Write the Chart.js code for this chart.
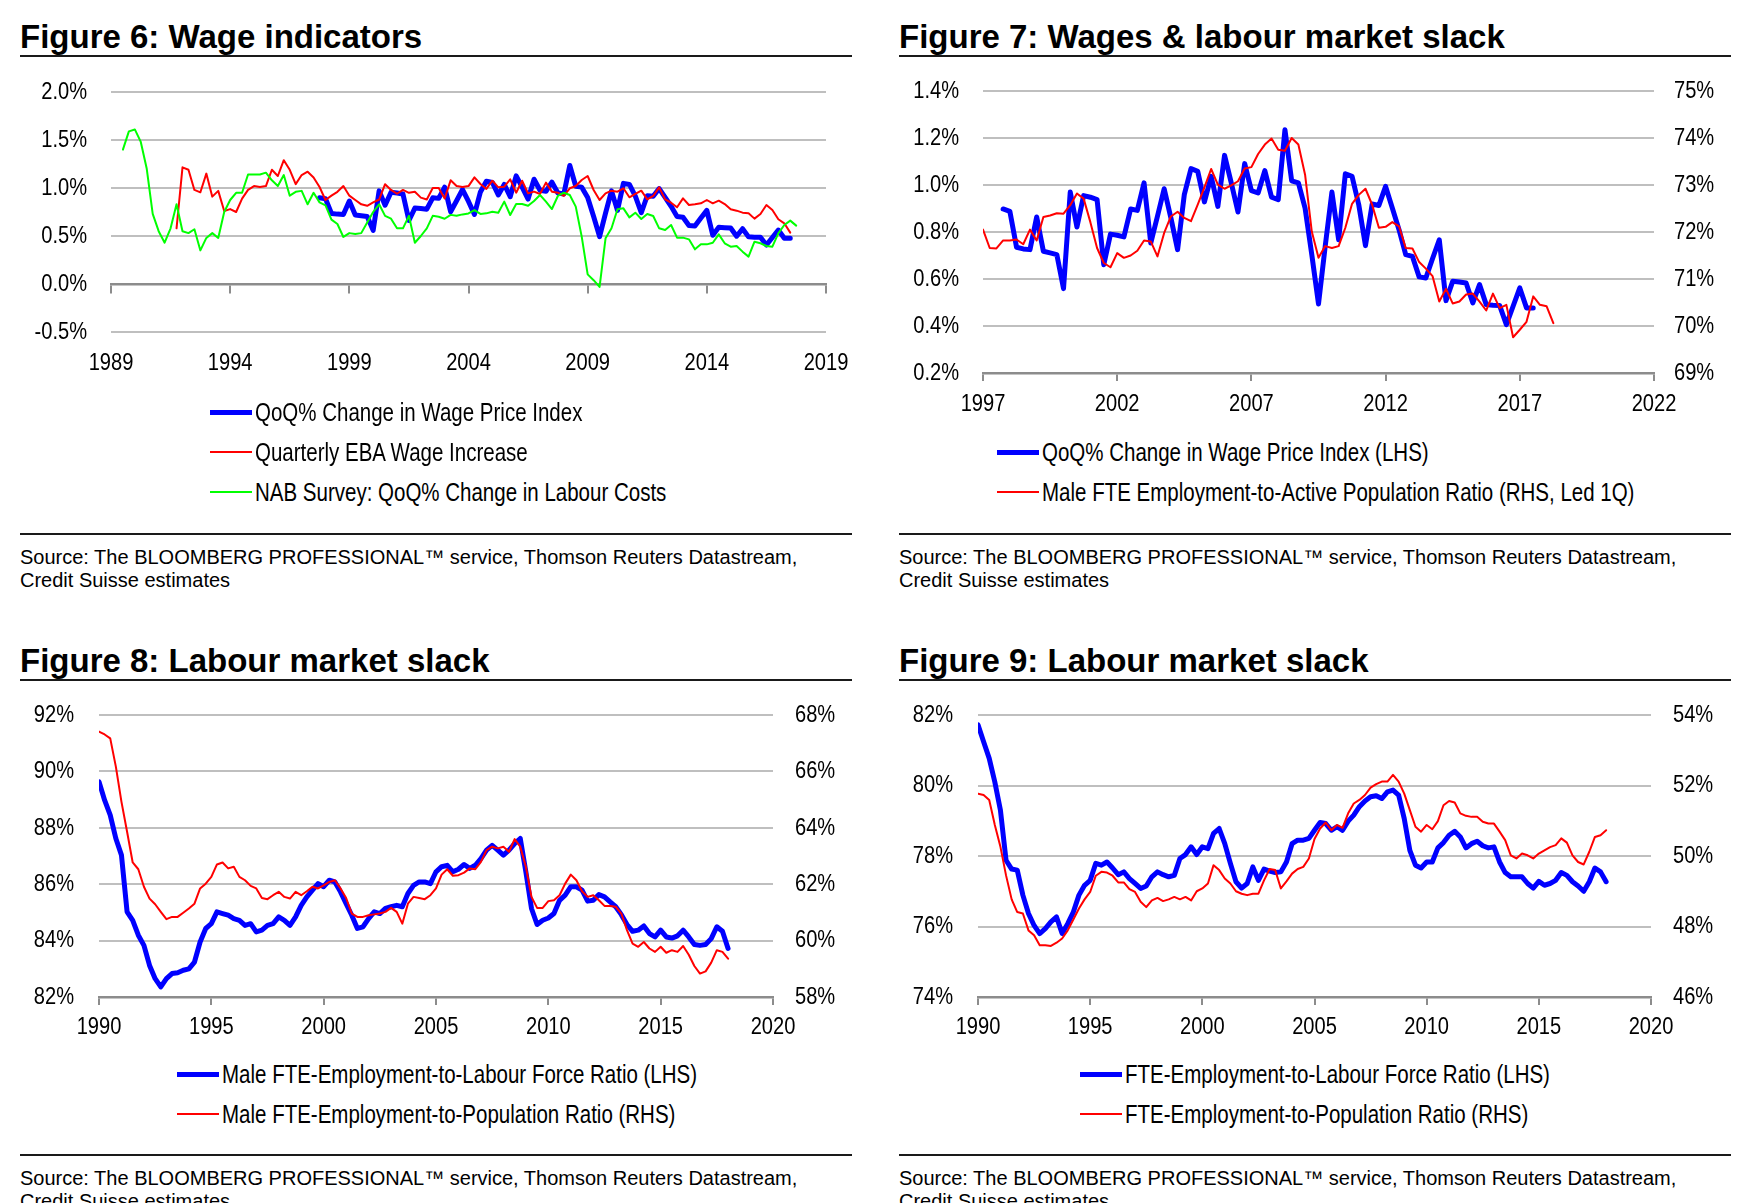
<!DOCTYPE html>
<html>
<head>
<meta charset="utf-8">
<script src="https://cdn.jsdelivr.net/npm/chart.js@4.4.1/dist/chart.umd.min.js"></script>
<style>
  html, body { margin: 0; padding: 0; background: #fff; }
  body { width: 1743px; height: 1203px; position: relative; overflow: hidden;
         font-family: 'Liberation Sans', Arial, sans-serif; color: #000; }
  .title { position: absolute; font-weight: bold; font-size: 33px; line-height: 1; white-space: nowrap; }
  .rule { position: absolute; height: 2px; background: #1a1a1a; }
  .source { position: absolute; font-size: 20px; line-height: 23px; white-space: nowrap; }
  .legend { position: absolute; font-size: 25px; }
  .legend .row { position: absolute; left: 0; height: 0; white-space: nowrap; }
  .legend .swatch { position: absolute; left: 0; width: 42px; }
  /* no narrow face installed: squeeze Liberation Sans like Arial Narrow */
  .legend .txt { position: absolute; left: 45px; top: 0; line-height: 1;
                 transform: translateY(-50%) scaleX(0.82); transform-origin: left center; }
  canvas { position: absolute; }
</style>
</head>
<body>

<div class="title" style="left:20px; top:20px;">Figure 6: Wage indicators</div>
<div class="rule" style="left:20px; top:55px; width:832px;"></div>
<div class="rule" style="left:20px; top:533px; width:832px;"></div>
<div class="source" style="left:20px; top:546px;">Source: The BLOOMBERG PROFESSIONAL™ service, Thomson Reuters Datastream,<br>Credit Suisse estimates</div>
<canvas id="fig6" width="856" height="350" style="left:20px; top:50px;"></canvas>

<div class="title" style="left:899px; top:20px;">Figure 7: Wages &amp; labour market slack</div>
<div class="rule" style="left:899px; top:55px; width:832px;"></div>
<div class="rule" style="left:899px; top:533px; width:832px;"></div>
<div class="source" style="left:899px; top:546px;">Source: The BLOOMBERG PROFESSIONAL™ service, Thomson Reuters Datastream,<br>Credit Suisse estimates</div>
<canvas id="fig7" width="832" height="366" style="left:899px; top:49px;"></canvas>

<div class="title" style="left:20px; top:644px;">Figure 8: Labour market slack</div>
<div class="rule" style="left:20px; top:679px; width:832px;"></div>
<div class="rule" style="left:20px; top:1154px; width:832px;"></div>
<div class="source" style="left:20px; top:1167px;">Source: The BLOOMBERG PROFESSIONAL™ service, Thomson Reuters Datastream,<br>Credit Suisse estimates</div>
<canvas id="fig8" width="832" height="367" style="left:20px; top:673px;"></canvas>

<div class="title" style="left:899px; top:644px;">Figure 9: Labour market slack</div>
<div class="rule" style="left:899px; top:679px; width:832px;"></div>
<div class="rule" style="left:899px; top:1154px; width:832px;"></div>
<div class="source" style="left:899px; top:1167px;">Source: The BLOOMBERG PROFESSIONAL™ service, Thomson Reuters Datastream,<br>Credit Suisse estimates</div>
<canvas id="fig9" width="832" height="367" style="left:899px; top:673px;"></canvas>

<script>
// quarterly series (first value's date given separately)
const wpiStart = 1997.75;
const wpiQoq = [0.898, 0.888, 0.735, 0.728, 0.725, 0.864, 0.718, 0.711, 0.704, 0.559,
  0.970, 0.821, 0.955, 0.948, 0.938, 0.661, 0.791, 0.786, 0.779, 0.898,
  0.892, 1.009, 0.753, 0.867, 0.984, 0.860, 0.725, 0.959, 1.070, 1.058,
  0.928, 1.037, 0.909, 1.126, 1.009, 0.885, 1.091, 0.976, 0.966, 1.061,
  0.948, 0.938, 1.235, 1.018, 1.009, 0.902, 0.704, 0.494, 0.739, 0.970,
  0.767, 1.048, 1.037, 0.916, 0.742, 0.919, 0.913, 0.994, 0.902, 0.810,
  0.704, 0.696, 0.609, 0.604, 0.687, 0.767, 0.508, 0.590, 0.587, 0.583,
  0.498, 0.576, 0.491, 0.488, 0.487, 0.406, 0.484, 0.562, 0.477, 0.477];

const ebaStart = 1991.75;
const ebaWage = [0.58, 1.215, 1.19, 0.98, 0.955, 1.15, 0.91, 0.97, 0.76, 0.78,
  0.75, 0.89, 0.98, 1.02, 1.01, 1.02, 1.19, 1.125, 1.29, 1.19,
  1.04, 1.135, 1.17, 1.11, 1.01, 0.875, 0.92, 0.96, 1.02, 0.92,
  0.875, 0.83, 0.815, 0.85, 0.88, 1.04, 0.98, 0.94, 0.98, 0.95,
  0.96, 0.90, 0.88, 1.0, 1.0, 0.89, 1.08, 1.02, 1.01, 1.02,
  1.111, 1.042, 0.990, 1.076, 1.007, 1.014, 1.090, 0.951, 1.076, 0.944,
  0.962, 0.938, 1.056, 0.962, 0.951, 0.917, 0.997, 1.021, 1.083, 1.125,
  0.979, 0.875, 0.944, 0.972, 0.962, 0.997, 0.903, 0.938, 0.972, 0.882,
  0.917, 1.007, 0.882, 0.847, 0.799, 0.892, 0.823, 0.830, 0.840, 0.875,
  0.840, 0.868, 0.833, 0.778, 0.764, 0.743, 0.736, 0.681, 0.729, 0.823,
  0.771, 0.674, 0.632, 0.535];

const nabStart = 1989.5;
const nabLabour = [1.40, 1.59, 1.61, 1.48, 1.20, 0.73, 0.55, 0.43, 0.58, 0.83,
  0.55, 0.53, 0.57, 0.35, 0.48, 0.53, 0.48, 0.75, 0.875, 0.95,
  0.95, 1.14, 1.14, 1.14, 1.16, 1.08, 1.02, 1.135, 0.92, 0.96,
  0.97, 0.83, 0.95, 0.85, 0.82, 0.67, 0.625, 0.49, 0.53, 0.52,
  0.53, 0.64, 0.75, 0.83, 0.71, 0.68, 0.58, 0.58, 0.71, 0.43,
  0.50, 0.58, 0.71, 0.70, 0.68, 0.72, 0.71, 0.725, 0.735,
  0.77, 0.73, 0.736, 0.753, 0.743, 0.858, 0.719, 0.833, 0.833, 0.816,
  0.865, 0.927, 0.858, 0.781, 0.917, 0.951, 0.927, 0.806, 0.493, 0.10,
  0.04, -0.03, 0.476, 0.58, 0.778, 0.788, 0.694, 0.743, 0.677, 0.729,
  0.708, 0.58, 0.5625, 0.615, 0.483, 0.483, 0.465, 0.361, 0.413, 0.413,
  0.43, 0.517, 0.424, 0.389, 0.396, 0.337, 0.285, 0.441, 0.424, 0.396,
  0.389, 0.528, 0.615, 0.66, 0.608];

const maleActiveStart = 1997.0;
const maleEmpActive = [72.05, 71.66, 71.65, 71.82, 71.82, 71.84, 71.74, 72.05, 71.82, 72.32,
  72.35, 72.40, 72.39, 72.57, 72.82, 72.71, 72.21, 71.66, 71.34, 71.25,
  71.55, 71.45, 71.50, 71.60, 71.82, 71.80, 71.48, 71.98, 72.33, 72.43,
  72.30, 72.23, 72.58, 72.95, 73.34, 73.01, 72.92, 72.99, 73.08, 73.35,
  73.38, 73.66, 73.86, 73.99,
  73.75, 73.73, 74.00, 73.86, 73.22, 72.01, 71.45, 71.70, 71.66, 71.70,
  72.09, 72.60, 72.79, 72.92, 72.58, 72.09, 72.11, 72.21, 72.12, 71.66,
  71.65, 71.36, 71.22, 71.06, 70.52, 70.79, 70.48, 70.52, 70.67, 70.69,
  70.52, 70.33, 70.69, 70.38, 70.45, 69.76, 69.92, 70.09, 70.63, 70.45,
  70.42, 70.06];

const slackStart = 1990.0;
const maleEmpLF = [89.63, 88.98, 88.45, 87.62, 87.03, 85.02, 84.72, 84.19, 83.83, 83.12,
  82.65, 82.36, 82.65, 82.83, 82.86, 82.95, 83.00, 83.24, 83.95, 84.43,
  84.60, 85.02, 84.96, 84.90, 84.78, 84.72, 84.54, 84.60, 84.31, 84.37,
  84.54, 84.60, 84.84, 84.72, 84.54, 84.84, 85.25, 85.55, 85.79, 86.02,
  85.91, 86.14, 86.08, 85.73, 85.31, 84.90, 84.43, 84.49, 84.78, 85.02,
  84.96, 85.14, 85.20, 85.25, 85.20, 85.67, 85.96, 86.08, 86.08,
  86.02, 86.44, 86.62, 86.67, 86.44, 86.53, 86.70, 86.56, 86.67, 86.91,
  87.21, 87.38, 87.21, 87.03, 87.21, 87.44, 87.62, 86.44, 85.14, 84.57,
  84.72, 84.80, 84.96, 85.43, 85.61, 85.91, 85.91, 85.79, 85.40, 85.43,
  85.63, 85.55, 85.37, 85.20, 84.92, 84.57, 84.33, 84.37, 84.52, 84.25,
  84.13, 84.37, 84.13, 84.09, 84.17, 84.37, 84.13, 83.86, 83.83, 83.86,
  84.07, 84.49, 84.33, 83.72];
const maleEmpPop = [67.41, 67.31, 67.17, 66.17, 64.92, 63.86, 62.77, 62.53, 61.91, 61.49,
  61.29, 61.02, 60.76, 60.84, 60.84, 60.99, 61.14, 61.31, 61.85, 62.02,
  62.26, 62.70, 62.77, 62.56, 62.62, 62.26, 62.14, 61.94, 61.85, 61.51,
  61.47, 61.61, 61.73, 61.55, 61.49, 61.73, 61.61, 61.75, 61.91, 61.85,
  61.96, 62.08, 62.14, 61.85, 61.51, 60.96, 60.84, 60.84, 60.90, 60.93,
  60.96, 61.02, 61.16, 61.02, 60.60, 61.31, 61.55, 61.51, 61.47,
  61.61, 61.85, 62.34, 62.53, 62.30, 62.32, 62.41, 62.56, 62.53, 62.79,
  63.21, 63.33, 63.27, 63.33, 63.15, 63.60, 63.33, 62.62, 61.55, 61.16,
  61.16, 61.40, 61.43, 61.61, 62.02, 62.34, 62.14, 61.75, 61.55, 61.61,
  61.43, 61.23, 61.23, 61.20, 60.96, 60.37, 59.89, 59.78, 59.95, 59.72,
  59.60, 59.78, 59.57, 59.66, 59.60, 59.81, 59.50, 59.10, 58.83, 58.91,
  59.22, 59.66, 59.60, 59.36];
const empLF = [81.72, 81.24, 80.77, 80.10, 79.30, 77.88, 77.63, 77.60, 76.89, 76.37,
  76.03, 75.80, 75.94, 76.13, 76.27, 75.80, 76.08, 76.41, 76.89, 77.17,
  77.31, 77.79, 77.74, 77.83, 77.66, 77.47, 77.55, 77.36, 77.22, 77.08,
  77.15, 77.41, 77.55, 77.47, 77.41, 77.45, 77.93, 78.04, 78.26, 78.04,
  78.26, 78.21, 78.64, 78.78, 78.35, 77.79, 77.27, 77.09, 77.22, 77.69,
  77.31, 77.63, 77.57, 77.53, 77.55, 77.83, 78.35, 78.45, 78.45,
  78.50, 78.73, 78.95, 78.92, 78.73, 78.83, 78.73, 78.99, 79.16, 79.40,
  79.56, 79.68, 79.71, 79.63, 79.82, 79.87, 79.73, 79.06, 78.16, 77.74,
  77.66, 77.83, 77.83, 78.23, 78.38, 78.59, 78.70, 78.54, 78.23, 78.35,
  78.42, 78.29, 78.23, 78.26, 77.83, 77.53, 77.41, 77.41, 77.41, 77.22,
  77.09, 77.28, 77.17, 77.22, 77.31, 77.53, 77.45, 77.27, 77.15, 77.00,
  77.27, 77.66, 77.55, 77.27];
const empPop = [51.77, 51.73, 51.59, 50.88, 50.26, 49.45, 48.77, 48.41, 48.37, 47.89,
  47.75, 47.47, 47.47, 47.45, 47.54, 47.66, 47.89, 48.20, 48.51, 48.77,
  48.98, 49.44, 49.55, 49.53, 49.44, 49.25, 49.25, 49.06, 48.98, 48.70,
  48.55, 48.74, 48.81, 48.72, 48.77, 48.84, 48.77, 48.84, 48.74, 49.00,
  49.08, 49.22, 49.74, 49.60, 49.36, 49.22, 49.00, 48.93, 48.89, 48.93,
  48.93, 49.31, 49.63, 49.60, 49.08, 49.28, 49.50, 49.63, 49.69,
  49.93, 50.48, 50.78, 50.95, 50.73, 50.88, 50.80, 51.21, 51.49, 51.59,
  51.73, 51.94, 52.04, 52.11, 52.11, 52.30, 52.11, 51.77, 51.30, 50.83,
  50.69, 50.88, 50.76, 50.99, 51.44, 51.56, 51.52, 51.21, 51.14, 51.11,
  51.11, 50.97, 50.92, 50.92, 50.69, 50.45, 50.02, 49.93, 50.07, 50.02,
  49.93, 50.07, 50.16, 50.25, 50.31, 50.50, 50.38, 50.02, 49.83, 49.76,
  50.12, 50.54, 50.59, 50.73];

// axis ticks
const fig6XTicks = [1989, 1994, 1999, 2004, 2009, 2014, 2019];
const fig6YTicks = [-0.5, 0, 0.5, 1.0, 1.5, 2.0];
const fig7XTicks = [1997, 2002, 2007, 2012, 2017, 2022];
const fig7YTicks = [0.2, 0.4, 0.6, 0.8, 1.0, 1.2, 1.4];
const fig7Y2Ticks = [69, 70, 71, 72, 73, 74, 75];
const slackXTicks = [1990, 1995, 2000, 2005, 2010, 2015, 2020];
const fig8YTicks = [82, 84, 86, 88, 90, 92];
const fig8Y2Ticks = [58, 60, 62, 64, 66, 68];
const fig9YTicks = [74, 76, 78, 80, 82];
const fig9Y2Ticks = [46, 48, 50, 52, 54];

const BLUE = '#0000ff', RED = '#ff0000', GREEN = '#00ff00';
const GRID = '#bfbfbf', AXIS = '#8c8c8c';
const NARROW_X = 0.82;

Chart.defaults.font.family = "'Liberation Sans', Arial, sans-serif";
Chart.defaults.font.size = 24.5;
Chart.defaults.color = '#000';

// squeeze canvas text horizontally around its anchor (stand-in for Arial Narrow)
const narrowText = {
  id: 'narrowText',
  beforeDraw(chart) {
    const ctx = chart.ctx;
    if (ctx._narrowed) return;
    const fill = ctx.fillText.bind(ctx);
    ctx.fillText = (text, x, y) => {
      ctx.save();
      ctx.translate(x, y);
      ctx.scale(NARROW_X, 1);
      fill(text, 0, 0);
      ctx.restore();
    };
    ctx._narrowed = true;
  }
};
Chart.register(narrowText);

const quarterly = (start, values) => values.map((v, i) => ({ x: start + i * 0.25, y: v }));
const pct1 = v => v.toFixed(1) + '%';
const pct0 = v => v.toFixed(0) + '%';
const setTicks = list => s => { s.ticks = list.map(v => ({ value: v })); };

function bottomAxis(ticks, h, pad, withLine) {
  return {
    type: 'linear', position: 'bottom', min: ticks[0], max: ticks[ticks.length - 1],
    afterBuildTicks: setTicks(ticks),
    afterFit: s => { s.height = h; },
    ticks: { padding: pad, maxRotation: 0, autoSkip: false, callback: v => String(v) },
    grid: withLine
      ? { display: true, drawOnChartArea: false, drawTicks: true, tickLength: 8, color: AXIS, lineWidth: 2 }
      : { display: false, drawTicks: false },
    border: { display: withLine, color: AXIS, width: 2.5 }
  };
}

// axis line sitting on the zero value (figure 6 only)
function zeroAxis(ticks) {
  return {
    type: 'linear', axis: 'x', position: { y: 0 }, min: ticks[0], max: ticks[ticks.length - 1],
    afterBuildTicks: setTicks(ticks),
    afterFit: s => { s.height = 0; },
    ticks: { display: false },
    grid: { display: true, drawOnChartArea: false, drawTicks: true, tickLength: 8, color: AXIS, lineWidth: 2 },
    border: { display: true, color: AXIS, width: 2.5 }
  };
}

function sideAxis(pos, ticks, w, pad, fmt, showGrid) {
  return {
    type: 'linear', position: pos, min: ticks[0], max: ticks[ticks.length - 1],
    afterBuildTicks: setTicks(ticks),
    afterFit: s => { s.width = w; },
    ticks: { padding: pad, callback: fmt },
    grid: showGrid ? { color: GRID, lineWidth: 2, drawTicks: false } : { display: false, drawTicks: false },
    border: { display: false }
  };
}

function line(label, data, color, width, order, axis) {
  return { label, data, borderColor: color, backgroundColor: color, borderWidth: width,
    order, yAxisID: axis || 'y', pointRadius: 0, tension: 0, fill: false,
    borderJoinStyle: 'round', borderCapStyle: 'round' };
}

function baseOptions(padding, scales) {
  return {
    responsive: false, animation: false, events: [],
    layout: { padding },
    plugins: { legend: { display: false }, tooltip: { enabled: false } },
    scales
  };
}

function buildLegend(chart, left, top, gap) {
  const box = document.createElement('div');
  box.className = 'legend';
  box.style.left = left + 'px';
  box.style.top = top + 'px';
  chart.data.datasets.forEach((ds, i) => {
    const row = document.createElement('div');
    row.className = 'row';
    row.style.top = (i * gap) + 'px';
    const sw = document.createElement('div');
    sw.className = 'swatch';
    sw.style.height = ds.borderWidth + 'px';
    sw.style.top = (-ds.borderWidth / 2) + 'px';
    sw.style.background = ds.borderColor;
    const tx = document.createElement('div');
    tx.className = 'txt';
    tx.textContent = ds.label;
    row.appendChild(sw);
    row.appendChild(tx);
    box.appendChild(row);
  });
  document.body.appendChild(box);
}

// Figure 6  (chart area 111..826 x 92..332 on the page)
const fig6 = new Chart(document.getElementById('fig6'), {
  type: 'line',
  data: { datasets: [
    line('QoQ% Change in Wage Price Index', quarterly(wpiStart, wpiQoq), BLUE, 5, 3),
    line('Quarterly EBA Wage Increase', quarterly(ebaStart, ebaWage), RED, 2, 2),
    line('NAB Survey: QoQ% Change in Labour Costs', quarterly(nabStart, nabLabour), GREEN, 2, 1)
  ]},
  options: baseOptions({ top: 42, right: 50, left: 0, bottom: 0 }, {
    x: bottomAxis(fig6XTicks, 68, 17, false),
    x0: zeroAxis(fig6XTicks),
    y: sideAxis('left', fig6YTicks, 91, 24, pct1, true)
  })
});
buildLegend(fig6, 210, 412, 40);

// Figure 7  (chart area 983..1654 x 91..373)
const fig7 = new Chart(document.getElementById('fig7'), {
  type: 'line',
  data: { datasets: [
    line('QoQ% Change in Wage Price Index (LHS)', quarterly(wpiStart, wpiQoq), BLUE, 5, 2, 'y'),
    line('Male FTE Employment-to-Active Population Ratio (RHS, Led 1Q)', quarterly(maleActiveStart, maleEmpActive), RED, 2, 1, 'y2')
  ]},
  options: baseOptions({ top: 42, right: 0, left: 0, bottom: 0 }, {
    x: bottomAxis(fig7XTicks, 42, 9, true),
    y: sideAxis('left', fig7YTicks, 84, 24, pct1, true),
    y2: sideAxis('right', fig7Y2Ticks, 77, 20, pct0, false)
  })
});
buildLegend(fig7, 997, 452, 40);

// Figure 8  (chart area 99..773 x 715..997)
const fig8 = new Chart(document.getElementById('fig8'), {
  type: 'line',
  data: { datasets: [
    line('Male FTE-Employment-to-Labour Force Ratio (LHS)', quarterly(slackStart, maleEmpLF), BLUE, 5, 2, 'y'),
    line('Male FTE-Employment-to-Population Ratio (RHS)', quarterly(slackStart, maleEmpPop), RED, 2, 1, 'y2')
  ]},
  options: baseOptions({ top: 42, right: 0, left: 0, bottom: 0 }, {
    x: bottomAxis(slackXTicks, 43, 8, true),
    y: sideAxis('left', fig8YTicks, 79, 25, pct0, true),
    y2: sideAxis('right', fig8Y2Ticks, 79, 22, pct0, false)
  })
});
buildLegend(fig8, 177, 1074, 40);

// Figure 9  (chart area 978..1651 x 715..997)
const fig9 = new Chart(document.getElementById('fig9'), {
  type: 'line',
  data: { datasets: [
    line('FTE-Employment-to-Labour Force Ratio (LHS)', quarterly(slackStart, empLF), BLUE, 5, 2, 'y'),
    line('FTE-Employment-to-Population Ratio (RHS)', quarterly(slackStart, empPop), RED, 2, 1, 'y2')
  ]},
  options: baseOptions({ top: 42, right: 0, left: 0, bottom: 0 }, {
    x: bottomAxis(slackXTicks, 43, 8, true),
    y: sideAxis('left', fig9YTicks, 79, 25, pct0, true),
    y2: sideAxis('right', fig9Y2Ticks, 80, 22, pct0, false)
  })
});
buildLegend(fig9, 1080, 1074, 40);
</script>
</body>
</html>
